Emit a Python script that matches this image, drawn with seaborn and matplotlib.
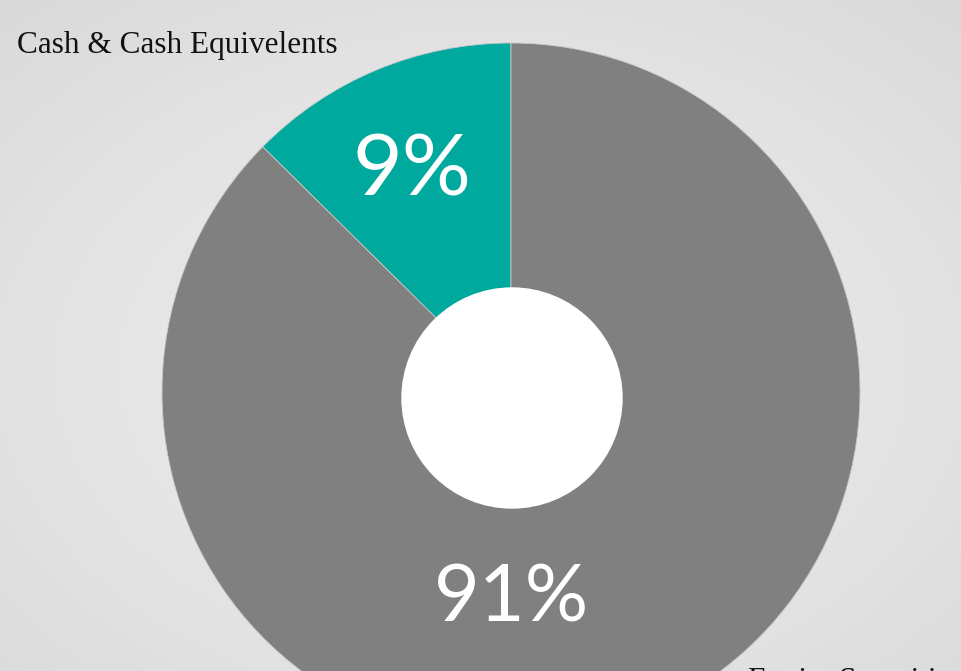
import numpy as np
import matplotlib
matplotlib.use("Agg")
import matplotlib.pyplot as plt
import seaborn as sns

# Data
categories = ["Cash & Cash Equivelents", "Equity Securities"]
slice_shares = [12.6, 87.4]          # angular share as drawn in the picture
pct_labels = ["9%", "91%"]
colors = ["#00A99D", "#808080"]

sns.set_theme(style="white")
plt.rcParams["font.family"] = ["Lato", "DejaVu Sans"]

W, H = 961, 671
fig = plt.figure(figsize=(W / 100, H / 100), dpi=100)

# background radial gradient
bg = fig.add_axes([0, 0, 1, 1])
yy, xx = np.mgrid[0:H, 0:W]
r = np.hypot((xx - W * 0.5) / W, (yy - H * 0.55) / H)
r = r / r.max()
g = 0.925 - 0.075 * r ** 1.5
bg.imshow(np.dstack([g, g, g]), extent=[0, W, 0, H], origin="upper", aspect="auto")
bg.set_axis_off()

ax = fig.add_axes([0, 0, 1, 1])
ax.patch.set_alpha(0)

cx, cy = 511, H - 392
R = 349
hx, hy, r_in = 512, H - 398, 110
ax.pie(slice_shares, colors=colors, startangle=90, counterclock=True,
       center=(cx, cy), radius=R, frame=True,
       wedgeprops=dict(linewidth=0.6, edgecolor="#c8c8c8"))
ax.set_xlim(0, W)
ax.set_ylim(0, H)
ax.set_aspect("equal")
ax.set_axis_off()
ax.add_patch(plt.Circle((hx, hy), r_in, color="white", zorder=5))

ax.text(412, H - 195, pct_labels[0], color="white", fontsize=62, ha="center", va="baseline",
        fontfamily=["Lato", "DejaVu Sans"])
ax.text(511, H - 622, pct_labels[1], color="white", fontsize=57, ha="center", va="baseline",
        fontfamily=["Lato", "DejaVu Sans"])

ax.text(17, H - 53, categories[0], color="#111111", fontsize=22.5, ha="left", va="baseline",
        fontfamily=["Liberation Serif", "DejaVu Serif"])
ax.text(748, H - 667, categories[1], color="#111111", fontsize=22.5, ha="left", va="top",
        fontfamily=["Liberation Serif", "DejaVu Serif"])

fig.savefig("out.png", dpi=100)
